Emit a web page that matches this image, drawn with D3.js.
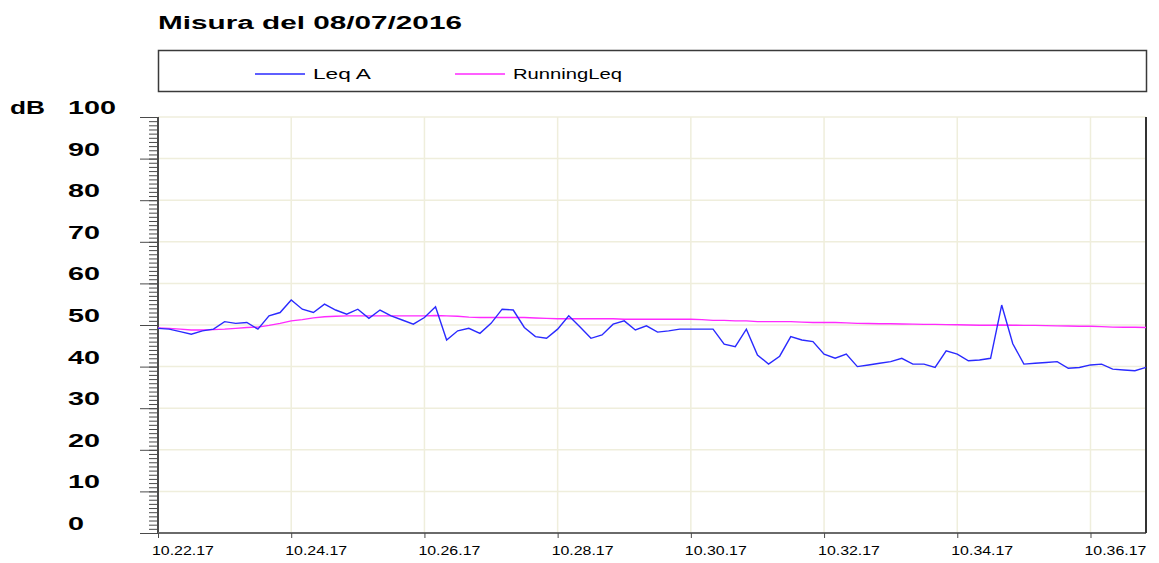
<!DOCTYPE html>
<html><head><meta charset="utf-8">
<script src="https://cdn.jsdelivr.net/npm/d3@7"></script>
<style>body{margin:0;background:#fff}svg{display:block}text{font-family:Arial,"Liberation Sans",sans-serif}</style>
</head><body>
<svg id="c" width="1159" height="563"></svg>
<script>
const title = "Misura del 08/07/2016";
const yUnit = "dB";
const startTime = "10:22:17";
const stepSeconds = 10;
const seriesNames = ["Leq A", "RunningLeq"];
const leqA = [49.2,49.0,48.4,47.8,48.6,49.0,50.8,50.4,50.6,49.0,
  52.2,53.0,56.0,53.8,53.0,55.0,53.6,52.6,53.8,51.6,
  53.6,52.2,51.2,50.2,51.8,54.4,46.4,48.6,49.2,48.0,
  50.4,53.8,53.6,49.4,47.2,46.8,49.0,52.2,49.6,46.8,
  47.6,50.2,51.0,48.8,49.8,48.3,48.6,49.0,49.0,49.0,
  49.0,45.4,44.8,49.0,42.8,40.6,42.5,47.2,46.4,46.0,
  43.0,42.0,43.0,40.0,40.4,40.8,41.2,42.0,40.6,40.6,
  39.8,43.8,43.0,41.4,41.6,42.0,54.8,45.5,40.6,40.8,
  41.0,41.2,39.6,39.8,40.4,40.6,39.4,39.2,39.0,39.8];
const runningLeq = [49.3,49.2,49.0,48.8,48.8,48.9,49.0,49.2,49.4,49.5,
  49.9,50.4,51.0,51.3,51.7,52.0,52.1,52.2,52.2,52.2,
  52.2,52.2,52.2,52.2,52.2,52.3,52.2,52.1,51.9,51.8,
  51.8,51.8,51.8,51.8,51.7,51.6,51.5,51.5,51.5,51.5,
  51.5,51.5,51.4,51.4,51.4,51.4,51.4,51.4,51.4,51.3,
  51.1,51.1,51.0,51.0,50.8,50.8,50.8,50.8,50.7,50.6,
  50.6,50.6,50.5,50.4,50.35,50.3,50.3,50.25,50.2,50.15,
  50.15,50.1,50.05,50.0,49.95,49.95,50.0,49.95,49.9,49.9,
  49.85,49.8,49.75,49.7,49.7,49.6,49.5,49.45,49.45,49.4];
const xTickLabels = ["10.22.17","10.24.17","10.26.17","10.28.17","10.30.17","10.32.17","10.34.17","10.36.17"];
const yTickValues = [0,10,20,30,40,50,60,70,80,90,100];

const svg = d3.select("#c");
const L = 158, R = 1146, T = 117, B = 533;
const parseClock = d3.timeParse("%H:%M:%S");
const parseTick = d3.timeParse("%H.%M.%S");
const t0 = parseClock(startTime);
const times = leqA.map((_, i) => d3.timeSecond.offset(t0, i * stepSeconds));
const x = d3.scaleTime().domain([times[0], times[times.length - 1]]).range([L, R]);
const y = d3.scaleLinear().domain([0, 100]).range([B, T]);
const tickDates = xTickLabels.map(parseTick);

// helper to stretch text horizontally to a target width
function stretched(g, str, px, py, size, weight, targetW, anchorLeft = true) {
  const grp = g.append("g");
  const t = grp.append("text").text(str).attr("font-size", size).attr("font-weight", weight)
    .attr("fill", "#000").attr("dominant-baseline", "central");
  const w = t.node().getComputedTextLength();
  const f = targetW / w;
  grp.attr("transform", `translate(${px},${py}) scale(${f},1)`);
  return grp;
}

// title
stretched(svg, title, 158, 23, 18.5, "bold", 304);

// legend box
svg.append("rect").attr("x", 158.5).attr("y", 50.5).attr("width", 988).attr("height", 41)
  .attr("fill", "#fff").attr("stroke", "#3a3a3a").attr("stroke-width", 1.5);
const legendColors = ["#2a2aff", "#ff2aff"];
const legendX = [255, 455];
const legendTW = [58, 109];
seriesNames.forEach((n, i) => {
  svg.append("line").attr("x1", legendX[i]).attr("x2", legendX[i] + 50).attr("y1", 74).attr("y2", 74)
    .attr("stroke", legendColors[i]).attr("stroke-width", 1.3);
  stretched(svg, n, legendX[i] + 58, 74.5, 14, "normal", legendTW[i]);
});

// gridlines
const grid = svg.append("g");
grid.selectAll(".hg").data(yTickValues.filter(v => v > 0)).join("line")
  .attr("x1", L).attr("x2", R).attr("y1", d => y(d)).attr("y2", d => y(d))
  .attr("stroke", "#efeedc").attr("stroke-width", 1.5);
grid.selectAll(".vg").data(tickDates.slice(1)).join("line")
  .attr("x1", d => x(d)).attr("x2", d => x(d)).attr("y1", T).attr("y2", B)
  .attr("stroke", "#efeedc").attr("stroke-width", 1.5);

// y axis minor & major ticks
const minorAxis = d3.axisLeft(y).tickValues(d3.range(0, 101, 1)).tickSize(9).tickFormat("");
const gMinor = svg.append("g").attr("transform", `translate(${L},0)`).call(minorAxis);
gMinor.select(".domain").remove();
gMinor.selectAll(".tick line").attr("stroke", "#4a4a4a").attr("stroke-width", 1);
const majorAxis = d3.axisLeft(y).tickValues(yTickValues).tickSize(18).tickFormat("");
const gMajor = svg.append("g").attr("transform", `translate(${L},0)`).call(majorAxis);
gMajor.select(".domain").attr("stroke", "#4a4a4a").attr("stroke-width", 2).attr("d", `M0,${T}V${B}`);
gMajor.selectAll(".tick line").attr("stroke", "#4a4a4a").attr("stroke-width", 1);

// y labels
yTickValues.forEach(v => {
  const s = String(v);
  stretched(svg, s, 68, y(v) - 9.5, 18.5, "bold", s.length * 16);
});
stretched(svg, yUnit, 10, y(100) - 9.5, 18.5, "bold", 35);

// x axis
const xAxis = d3.axisBottom(x).tickValues(tickDates).tickSize(5).tickFormat("");
const gx = svg.append("g").attr("transform", `translate(0,${B})`).call(xAxis);
gx.select(".domain").attr("stroke", "#6a6a6a").attr("stroke-width", 2).attr("d", `M${L},0H${R}`);
gx.selectAll(".tick line").attr("stroke", "#4a4a4a");
xTickLabels.forEach((lab, i) => {
  stretched(svg, lab, x(tickDates[i]) - 6, 551, 12, "normal", 62);
});

// right border
svg.append("line").attr("x1", R).attr("x2", R).attr("y1", T).attr("y2", B)
  .attr("stroke", "#333").attr("stroke-width", 2);

// series
const line = d3.line().x((d, i) => x(times[i])).y(d => y(d));
svg.append("path").datum(runningLeq).attr("d", line).attr("fill", "none")
  .attr("stroke", legendColors[1]).attr("stroke-width", 1.4);
svg.append("path").datum(leqA).attr("d", line).attr("fill", "none")
  .attr("stroke", legendColors[0]).attr("stroke-width", 1.4);
</script>
</body></html>
